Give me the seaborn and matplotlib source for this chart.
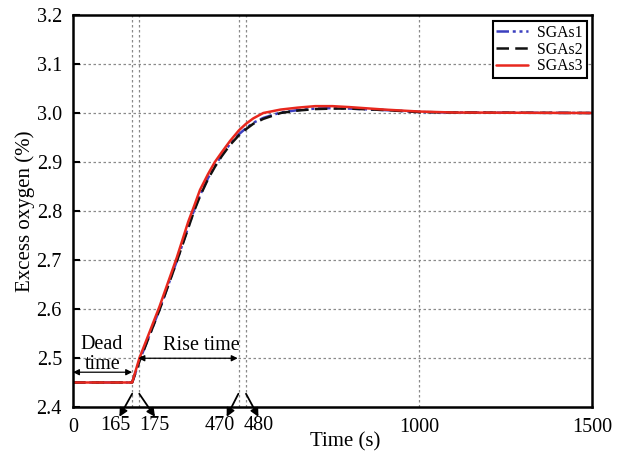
import numpy as np
import pandas as pd
import matplotlib
matplotlib.use("Agg")
import matplotlib.pyplot as plt
import seaborn as sns

# ---- data ----
time = [0, 171, 192, 250, 300, 333, 350, 367, 390, 410, 430, 454, 480, 500, 521,
        550, 600, 650, 700, 750, 800, 900, 1000, 1100, 1500]
sgas1 = [2.45, 2.45, 2.494, 2.599, 2.698, 2.767, 2.802, 2.832, 2.867, 2.892, 2.914, 2.937,
         2.957, 2.969, 2.980, 2.990, 3.001, 3.006, 3.009, 3.010, 3.009, 3.006, 3.002, 3.001, 3.0]
sgas2 = [2.45, 2.45, 2.493, 2.598, 2.697, 2.765, 2.800, 2.830, 2.865, 2.890, 2.912, 2.935,
         2.955, 2.967, 2.978, 2.988, 3.000, 3.005, 3.008, 3.009, 3.009, 3.006, 3.002, 3.001, 3.0]
sgas3 = [2.45, 2.45, 2.500, 2.605, 2.705, 2.778, 2.810, 2.843, 2.875, 2.900, 2.920, 2.943,
         2.965, 2.978, 2.989, 3.000, 3.007, 3.011, 3.014, 3.014, 3.012, 3.007, 3.003, 3.001, 3.0]
series_names = ["SGAs1", "SGAs2", "SGAs3"]
series_colors = ["#3b3fbf", "#111111", "#e8281e"]

x_ticks = [0, 1000, 1500]
y_ticks = [2.4, 2.5, 2.6, 2.7, 2.8, 2.9, 3.0, 3.1, 3.2]
vlines = [171, 191, 479, 499, 1000]
marker_labels = ["165", "175", "470", "480"]

df = pd.concat([
    pd.DataFrame({"Time": time, "Value": v, "Series": n})
    for n, v in zip(series_names, [sgas1, sgas2, sgas3])
])

sns.set_style("ticks")
plt.rcParams["font.family"] = ["Liberation Serif", "DejaVu Serif"]
plt.rcParams["axes.edgecolor"] = "black"
plt.rcParams["xtick.color"] = "black"
plt.rcParams["ytick.color"] = "black"
plt.rcParams["text.color"] = "black"
plt.rcParams["axes.labelcolor"] = "black"

fig = plt.figure(figsize=(6.22, 4.61), dpi=100)
ax = fig.add_axes([73/622, 54/461, 519/622, 392/461])

# grid
for yv in y_ticks[1:-1]:
    ax.axhline(yv, color="#8a8a8a", lw=0.9, ls=(0, (2, 2)), zorder=0)
for xv in vlines:
    ax.axvline(xv, color="#8a8a8a", lw=0.9, ls=(0, (2, 2)), zorder=0)

sns.lineplot(data=df, x="Time", y="Value", hue="Series", style="Series",
             palette=dict(zip(series_names, series_colors)),
             dashes={"SGAs1": (5, 1.5, 1.2, 1.5, 1.2, 1.5), "SGAs2": (5, 2.5), "SGAs3": ""},
             linewidth=1.8, ax=ax, legend=True)

ax.set_xlim(0, 1500)
ax.set_ylim(2.4, 3.2)
ax.set_xticks(x_ticks)
ax.set_xticklabels([str(t) for t in x_ticks])
ax.set_yticks(y_ticks)
ax.set_yticklabels([f"{t:.1f}" for t in y_ticks])
ax.tick_params(axis="y", direction="in", length=5, width=1.5, labelsize=14.5, pad=8)
ax.tick_params(axis="x", length=0, labelsize=14.5, pad=8)
for s in ax.spines.values():
    s.set_linewidth(1.8)
    s.set_visible(True)
    s.set_color("black")
ax.set_xlabel("Time (s)", fontsize=15)
ax.set_ylabel("Excess oxygen (%)", fontsize=15)
ax.xaxis.set_label_coords((345 - 73) / 519, -(432 - 407) / 392)
ax.yaxis.set_label_coords(-(73 - 35) / 519, 0.5)

leg = ax.legend(loc="upper right", bbox_to_anchor=(0.99, 0.985), fontsize=11.3,
                frameon=True, fancybox=False, edgecolor="black", framealpha=1,
                handlelength=2.0, labelspacing=0.05, borderpad=0.25, handletextpad=0.6,
                borderaxespad=0)
leg.get_frame().set_linewidth(1.5)
leg.set_title(None)

# marker arrows below the axis
starts = [171, 191.5, 478, 500]
tips = [134, 237, 444, 536]
label_x = [123, 235, 423, 538]
for s, t, lx, lab in zip(starts, tips, label_x, marker_labels):
    ax.annotate("", xy=(t, 2.380), xytext=(s, 2.427), xycoords="data",
                arrowprops=dict(arrowstyle="-|>", color="black", lw=1.3,
                                mutation_scale=12, shrinkA=0, shrinkB=0),
                annotation_clip=False)
    ax.text(lx, 2.362, lab, ha="center", va="center", fontsize=14.5, clip_on=False)

# Dead time
ax.annotate("", xy=(0, 2.471), xytext=(171, 2.471),
            arrowprops=dict(arrowstyle="<|-|>", color="black", lw=0.9, mutation_scale=9,
                            shrinkA=0, shrinkB=0))
ax.text(83, 2.527, "Dead", ha="center", va="center", fontsize=14.5)
ax.text(87, 2.487, "time", ha="center", va="center", fontsize=14.5)
# Rise time
ax.annotate("", xy=(189, 2.4995), xytext=(476, 2.4995),
            arrowprops=dict(arrowstyle="<|-|>", color="black", lw=0.9, mutation_scale=9,
                            shrinkA=0, shrinkB=0))
ax.text(370, 2.525, "Rise time", ha="center", va="center", fontsize=14.5)

fig.savefig("out.png", dpi=100)
